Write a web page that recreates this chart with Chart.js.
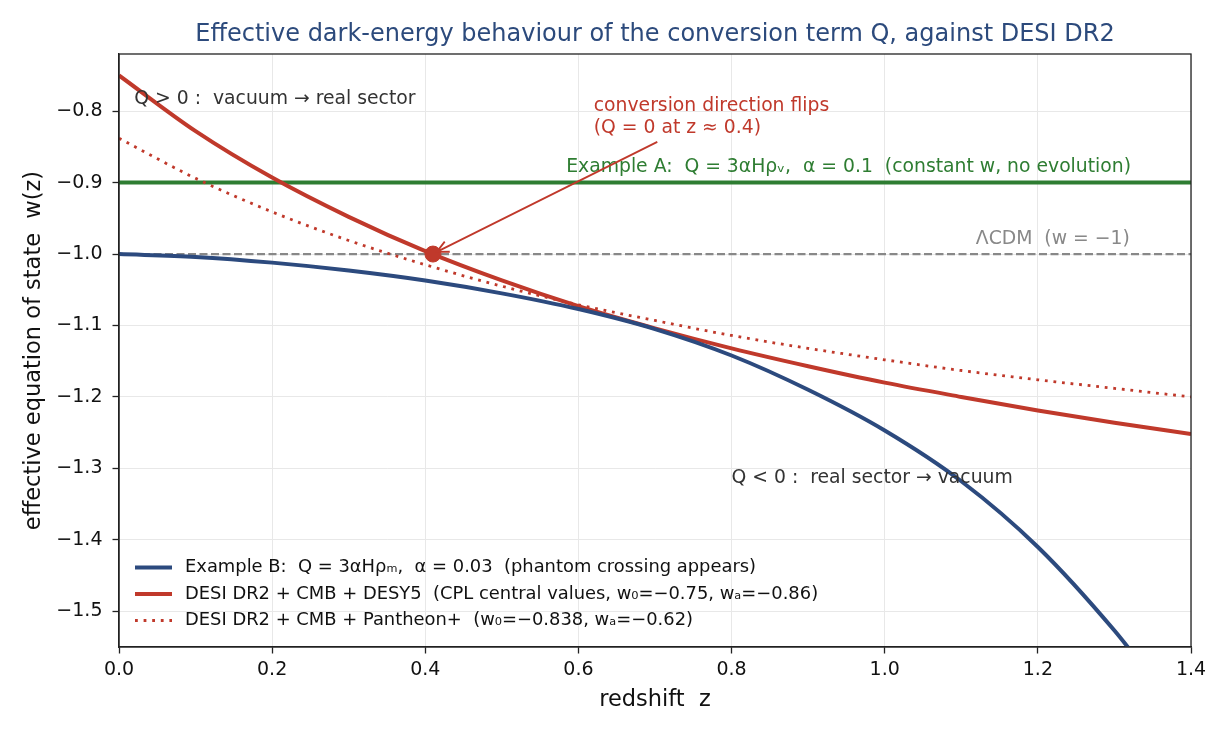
<!DOCTYPE html>
<html>
<head>
<meta charset="utf-8">
<script src="https://cdn.jsdelivr.net/npm/chart.js@4.4.1/dist/chart.umd.min.js"></script>
<style>
  html, body { margin: 0; padding: 0; background: #fff; }
</style>
</head>
<body>
<canvas id="myChart" width="1230" height="735"></canvas>
<script>
// values
const zGrid = [0, 0.1, 0.2, 0.3, 0.4, 0.5, 0.6, 0.7, 0.8, 0.9, 1.0, 1.1, 1.2, 1.3, 1.4];
const zExampleB = [0, 0.1, 0.2, 0.3, 0.4, 0.5, 0.6, 0.7, 0.8, 0.9, 1.0, 1.1, 1.2, 1.3, 1.35];
const wExampleB = [-1.0, -1.004, -1.012, -1.023, -1.037, -1.055, -1.077, -1.105, -1.142, -1.19, -1.247, -1.318, -1.41, -1.527, -1.595];
const wDesy5 = [-0.75, -0.828, -0.893, -0.948, -0.996, -1.037, -1.073, -1.104, -1.132, -1.157, -1.18, -1.2, -1.219, -1.236, -1.252];
const wPantheon = [-0.838, -0.894, -0.941, -0.981, -1.015, -1.045, -1.071, -1.093, -1.114, -1.132, -1.148, -1.163, -1.176, -1.188, -1.2];
const wExampleA = -0.9;
const wLcdm = -1.0;
const flipZ = 0.41;
const flipW = -1.0;
const xTicks = [0, 0.2, 0.4, 0.6, 0.8, 1.0, 1.2, 1.4];
const yTicks = [-1.5, -1.4, -1.3, -1.2, -1.1, -1.0, -0.9, -0.8];

const legendLabels = [
    'Example B:  Q = 3αHρₘ,  α = 0.03  (phantom crossing appears)',
    'DESI DR2 + CMB + DESY5  (CPL central values, w₀=−0.75, wₐ=−0.86)',
    'DESI DR2 + CMB + Pantheon+  (w₀=−0.838, wₐ=−0.62)'
];

const BLUE = '#2c4a7e';
const RED = '#c0392b';
const GREEN = '#2e7d32';
const GREY = '#888888';
const FONT = '"DejaVu Sans", sans-serif';

const pts = (xs, ys) => xs.map((v, i) => ({ x: v, y: ys[i] }));
const fmt = v => (v < 0 ? '−' : '') + Math.abs(v).toFixed(1);

// texts placed in data coordinates
const notes = [
    { text: 'Q > 0 :  vacuum → real sector', z: 0.02, w: -0.783, color: '#333333', align: 'left' },
    { text: 'Q < 0 :  real sector → vacuum', z: 0.80, w: -1.313, color: '#333333', align: 'left' },
    { text: 'conversion direction flips', z: 0.62, w: -0.793, color: RED, align: 'left' },
    { text: '(Q = 0 at z ≈ 0.4)', z: 0.62, w: -0.824, color: RED, align: 'left' },
    { text: 'Example A:  Q = 3αHρᵥ,  α = 0.1  (constant w, no evolution)', z: 0.584, w: -0.878, color: GREEN, align: 'left' },
    { text: 'ΛCDM  (w = −1)', z: 1.32, w: -0.979, color: GREY, align: 'right' }
];

const overlay = {
    id: 'overlay',
    afterDraw(chart) {
        const { ctx, chartArea: a, scales: { x, y } } = chart;
        ctx.save();

        // frame on all four sides
        ctx.strokeStyle = '#222';
        ctx.lineWidth = 1.3;
        ctx.strokeRect(a.left, a.top, a.right - a.left, a.bottom - a.top);

        // title
        ctx.fillStyle = '#2c4a7c';
        ctx.font = '24px ' + FONT;
        ctx.textAlign = 'center';
        ctx.textBaseline = 'middle';
        ctx.fillText('Effective dark-energy behaviour of the conversion term Q, against DESI DR2', (a.left + a.right) / 2, 34.5);

        // annotations
        ctx.font = '18.8px ' + FONT;
        notes.forEach(n => {
            ctx.fillStyle = n.color;
            ctx.textAlign = n.align;
            ctx.fillText(n.text, x.getPixelForValue(n.z), y.getPixelForValue(n.w));
        });

        // arrow to the flip point
        const x0 = x.getPixelForValue(0.703), y0 = y.getPixelForValue(-0.843);
        const x1 = x.getPixelForValue(0.415), y1 = y.getPixelForValue(-0.997);
        const ang = Math.atan2(y1 - y0, x1 - x0);
        ctx.strokeStyle = RED;
        ctx.lineWidth = 1.8;
        ctx.beginPath();
        ctx.moveTo(x0, y0);
        ctx.lineTo(x1, y1);
        ctx.moveTo(x1 - 13 * Math.cos(ang - 0.45), y1 - 13 * Math.sin(ang - 0.45));
        ctx.lineTo(x1, y1);
        ctx.lineTo(x1 - 13 * Math.cos(ang + 0.45), y1 - 13 * Math.sin(ang + 0.45));
        ctx.stroke();

        // legend (frameless, lower left)
        ctx.font = '17.9px ' + FONT;
        ctx.textAlign = 'left';
        const legendDs = [1, 2, 3];
        legendDs.forEach((di, i) => {
            const ds = chart.data.datasets[di];
            const ly = 567.5 + i * 26.5;
            ctx.strokeStyle = ds.borderColor;
            ctx.lineWidth = ds.borderWidth;
            ctx.setLineDash(ds.borderDash || []);
            ctx.beginPath();
            ctx.moveTo(a.left + 16, ly);
            ctx.lineTo(a.left + 53, ly);
            ctx.stroke();
            ctx.setLineDash([]);
            ctx.fillStyle = '#111';
            ctx.fillText(legendLabels[i], a.left + 66, ly);
        });

        ctx.restore();
    }
};

const ctx = document.getElementById('myChart').getContext('2d');
new Chart(ctx, {
    type: 'line',
    data: {
        datasets: [
            {
                type: 'scatter',
                data: [{ x: flipZ, y: flipW }],
                backgroundColor: RED,
                borderColor: RED,
                pointRadius: 8,
                pointHoverRadius: 8
            },
            {
                data: pts(zExampleB, wExampleB),
                borderColor: BLUE,
                borderWidth: 4,
                pointRadius: 0,
                cubicInterpolationMode: 'monotone'
            },
            {
                data: pts(zGrid, wDesy5),
                borderColor: RED,
                borderWidth: 4,
                pointRadius: 0,
                cubicInterpolationMode: 'monotone'
            },
            {
                data: pts(zGrid, wPantheon),
                borderColor: RED,
                borderWidth: 2.8,
                borderDash: [2.8, 5.8],
                pointRadius: 0,
                cubicInterpolationMode: 'monotone'
            },
            {
                data: [{ x: 0, y: wExampleA }, { x: 1.4, y: wExampleA }],
                borderColor: GREEN,
                borderWidth: 4,
                pointRadius: 0
            },
            {
                data: [{ x: 0, y: wLcdm }, { x: 1.4, y: wLcdm }],
                borderColor: GREY,
                borderWidth: 2.2,
                borderDash: [8, 3.5],
                pointRadius: 0
            }
        ]
    },
    options: {
        responsive: false,
        animation: false,
        devicePixelRatio: 1,
        layout: { padding: { top: 54, right: 39, left: 0, bottom: 0 } },
        plugins: { legend: { display: false }, tooltip: { enabled: false }, title: { display: false } },
        scales: {
            x: {
                type: 'linear',
                min: 0,
                max: 1.4,
                afterFit: s => { s.height = 88; },
                afterBuildTicks: s => { s.ticks = xTicks.map(v => ({ value: v })); },
                ticks: { callback: v => fmt(v), color: '#111', font: { family: FONT, size: 19 }, padding: 5, maxRotation: 0 },
                grid: { color: '#e8e8e8', lineWidth: 1, tickColor: '#222', tickLength: 6.5, tickWidth: 1.3 },
                border: { display: true, color: '#222', width: 1.3 },
                title: { display: true, text: 'redshift  z', color: '#111', font: { family: FONT, size: 22.5 }, padding: { top: 0, bottom: 21.5 } }
            },
            y: {
                type: 'linear',
                min: -1.55,
                max: -0.72,
                afterFit: s => { s.width = 119; },
                afterBuildTicks: s => { s.ticks = yTicks.map(v => ({ value: v })); },
                ticks: { callback: v => fmt(v), color: '#111', font: { family: FONT, size: 19 }, padding: 10 },
                grid: { color: '#e8e8e8', lineWidth: 1, tickColor: '#222', tickLength: 6.5, tickWidth: 1.3 },
                border: { display: true, color: '#222', width: 1.3 },
                title: { display: true, text: 'effective equation of state  w(z)', color: '#111', font: { family: FONT, size: 22.5 }, padding: { top: 20.5, bottom: 0 } }
            }
        }
    },
    plugins: [overlay]
});
</script>
</body>
</html>
